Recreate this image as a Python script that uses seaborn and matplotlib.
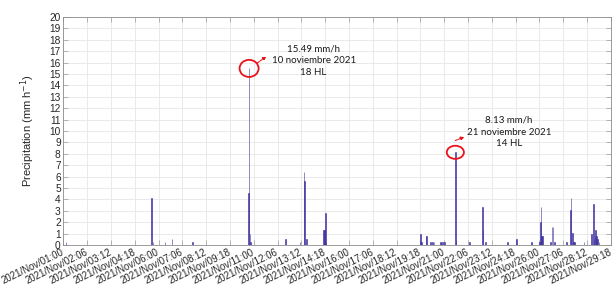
import numpy as np
import pandas as pd
import matplotlib
matplotlib.use('Agg')
import matplotlib.pyplot as plt
import matplotlib.dates as mdates
from matplotlib.patches import Ellipse
from matplotlib.transforms import offset_copy
import seaborn as sns

# hourly precipitation (mm/h), hours counted from 2021/Nov/01 00:00
start = pd.Timestamp('2021-11-01 00:00')
rain_hours = [3, 111, 113, 128, 137, 163,
              233, 234, 235, 236, 280, 298, 303, 304, 306,
              328, 329, 330, 331, 450, 451, 457, 458, 463, 465, 467,
              475, 476, 478, 480, 494, 495, 512, 528, 529, 532,
              560, 571, 590, 600, 601, 602, 603, 604, 614, 616, 617, 619,
              634, 639, 640, 642, 643, 644, 656,
              666, 668, 669, 670, 671, 672, 673, 675]
rain_mm = [0.25, 4.1, 0.25, 0.3, 0.5, 0.3,
           4.6, 15.49, 1.0, 0.25, 0.5, 0.3, 6.4, 5.6, 0.5,
           1.3, 1.3, 2.85, 0.3, 1.0, 0.3, 0.75, 0.75, 0.25, 0.25, 0.25,
           0.25, 0.25, 0.3, 0.3, 8.13, 0.45, 0.25, 3.35, 1.3, 0.3,
           0.3, 0.5, 0.3, 0.3, 2.05, 3.35, 0.8, 0.75, 0.3, 1.6, 1.6, 0.25,
           0.3, 3.1, 4.15, 1.05, 0.3, 0.25, 0.3,
           1.0, 3.6, 0.55, 0.75, 1.3, 0.75, 0.5, 0.25]

peak_hours = [234, 494]
peak_values = [15.49, 8.13]
peak_labels = ['15.49 mm/h\n10 noviembre 2021\n18 HL',
               '8.13 mm/h\n21 noviembre 2021\n14 HL']

tick_hours = np.arange(0, 691, 30)
y_ticks = np.arange(0, 21, 1)


def to_num(hours):
    return mdates.date2num(start + pd.to_timedelta(np.asarray(hours), unit='h'))


df = pd.DataFrame({'t': to_num(rain_hours), 'mm': rain_mm})

sns.set_style('whitegrid')
plt.rcParams['font.family'] = ['Liberation Sans', 'DejaVu Sans']

fig = plt.figure(figsize=(6.15, 2.94), dpi=100)
ax = fig.add_axes([0.1032, 0.1667, 0.8900, 0.7755])

bar_color = '#3d31a0'
t0 = mdates.date2num(start)
sns.histplot(data=df, x='t', weights='mm', binwidth=1 / 24,
             binrange=(t0 - 0.5 / 24, t0 + 690.5 / 24), shrink=0.8,
             color=bar_color, alpha=1, edgecolor=bar_color, linewidth=0.4, ax=ax)

ax.set_xlim(to_num([0])[0], to_num([690])[0])
ax.set_ylim(0, 20)
ax.set_xticks(to_num(tick_hours))
ax.xaxis.set_major_formatter(mdates.DateFormatter('%Y/%b/%d:%H'))
ax.set_yticks(y_ticks)

ax.grid(True, color='#e6e6e6', linewidth=0.6)
for s in ax.spines.values():
    s.set_color('#8c8c8c')
    s.set_linewidth(0.6)
ax.tick_params(axis='both', direction='in', length=3.5, width=0.6, color='#a8a8a8',
               labelsize=7.3, labelcolor='#262626', pad=2,
               top=True, right=True, bottom=True, left=True)
ax.tick_params(axis='x', labelsize=6.9, pad=5)
plt.setp(ax.get_xticklabels(), rotation=26, ha='right', va='center',
         rotation_mode='anchor')

ax.set_xlabel('')
ax.set_ylabel('Precipitation (mm h$^{-1}$)', fontsize=8, color='#262626')
ax.yaxis.set_label_coords(-0.048, 0.5)

# red circles and annotations for the two peaks
circle_sizes = [(1.0, 1.5), (0.9, 1.15)]
arrow_offsets = [((6, 4), (12.5, 8.5)), ((0, 8.5), (6.5, 11))]
text_offsets = [(46.5, 5.5), (38.5, 14.5)]
for h, v, lab, (w, hh), (a0, a1), toff in zip(peak_hours, peak_values, peak_labels,
                                              circle_sizes, arrow_offsets, text_offsets):
    xp = to_num([h])[0]
    ax.add_patch(Ellipse((xp, v), w, hh, fill=False, edgecolor='#e8141c', lw=1.3, zorder=5))
    t_tip = offset_copy(ax.transData, fig=fig, x=a1[0], y=a1[1], units='points')
    t_tail = offset_copy(ax.transData, fig=fig, x=a0[0], y=a0[1], units='points')
    ax.annotate('', xy=(xp, v), xycoords=t_tip, xytext=(xp, v), textcoords=t_tail,
                arrowprops=dict(arrowstyle='-|>', color='#e8141c', lw=0.8,
                                linestyle=(0, (2, 1)), mutation_scale=5,
                                shrinkA=0, shrinkB=0))
    ax.annotate(lab, xy=(xp, v), xytext=toff, textcoords='offset points',
                ha='center', va='center', fontsize=7.0, linespacing=1.4,
                color='#1a1a1a', family=['Lato', 'DejaVu Sans'])

fig.savefig('out.png', dpi=100)
